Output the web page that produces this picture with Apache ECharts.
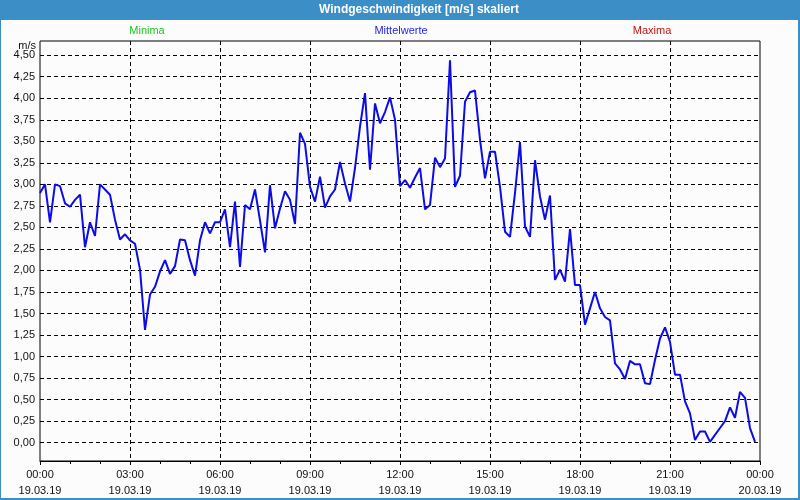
<!DOCTYPE html>
<html><head><meta charset="utf-8">
<script src="https://cdn.jsdelivr.net/npm/echarts@6/dist/echarts.min.js"></script>
<style>html,body{margin:0;padding:0;background:#fcfcfc}#c{width:800px;height:500px}</style>
</head><body><div id="c"></div>
<script>
const times = [
'00:00','00:10','00:20','00:30','00:40','00:50','01:00','01:10','01:20','01:30','01:40','01:50',
'02:00','02:10','02:20','02:30','02:40','02:50','03:00','03:10','03:20','03:30','03:40','03:50',
'04:00','04:10','04:20','04:30','04:40','04:50','05:00','05:10','05:20','05:30','05:40','05:50',
'06:00','06:10','06:20','06:30','06:40','06:50','07:00','07:10','07:20','07:30','07:40','07:50',
'08:00','08:10','08:20','08:30','08:40','08:50','09:00','09:10','09:20','09:30','09:40','09:50',
'10:00','10:10','10:20','10:30','10:40','10:50','11:00','11:10','11:20','11:30','11:40','11:50',
'12:00','12:10','12:20','12:30','12:40','12:50','13:00','13:10','13:20','13:30','13:40','13:50',
'14:00','14:10','14:20','14:30','14:40','14:50','15:00','15:10','15:20','15:30','15:40','15:50',
'16:00','16:10','16:20','16:30','16:40','16:50','17:00','17:10','17:20','17:30','17:40','17:50',
'18:00','18:10','18:20','18:30','18:40','18:50','19:00','19:10','19:20','19:30','19:40','19:50',
'20:00','20:10','20:20','20:30','20:40','20:50','21:00','21:10','21:20','21:30','21:40','21:50',
'22:00','22:10','22:20','22:30','22:40','22:50','23:00','23:10','23:20','23:30','23:40','23:50'];
const meanValues = [
2.90,3.00,2.56,3.00,2.98,2.78,2.74,2.82,2.88,2.27,2.56,2.40,
3.00,2.94,2.88,2.59,2.36,2.42,2.35,2.31,2.01,1.31,1.72,1.81,
1.99,2.12,1.96,2.05,2.36,2.35,2.12,1.94,2.35,2.56,2.43,2.56,
2.56,2.71,2.27,2.80,2.04,2.76,2.71,2.94,2.58,2.21,2.99,2.49,
2.72,2.92,2.82,2.54,3.60,3.47,2.97,2.80,3.09,2.73,2.86,2.94,
3.26,3.01,2.80,3.19,3.67,4.06,3.17,3.94,3.71,3.84,4.01,3.75,
2.98,3.05,2.96,3.08,3.19,2.71,2.76,3.31,3.20,3.30,4.44,2.97,
3.10,3.96,4.07,4.09,3.52,3.07,3.38,3.38,2.97,2.45,2.39,2.90,
3.49,2.51,2.39,3.28,2.86,2.59,2.87,1.89,2.01,1.87,2.48,1.83,
1.83,1.37,1.56,1.75,1.56,1.46,1.42,0.92,0.85,0.74,0.95,0.91,
0.91,0.69,0.68,0.96,1.21,1.34,1.17,0.79,0.79,0.48,0.34,0.03,
0.13,0.13,0.01,0.09,0.17,0.25,0.41,0.29,0.59,0.52,0.17,0.01];
const xTickLabels = ['00:00\n19.03.19','03:00\n19.03.19','06:00\n19.03.19','09:00\n19.03.19',
'12:00\n19.03.19','15:00\n19.03.19','18:00\n19.03.19','21:00\n19.03.19','00:00\n20.03.19'];
const titleText = 'Windgeschwindigkeit [m/s] skaliert';
const legendNames = ['Minima','Mittelwerte','Maxima'];
const yUnit = 'm/s';

const FONT = '"Liberation Sans", Arial, sans-serif';
const toHours = t => { const p = t.split(':'); return +p[0] + (+p[1]) / 60; };
const seriesData = times.map((t, i) => [toHours(t), meanValues[i]]);
const legendColors = ['#22c422', '#2323ee', '#c41111'];
const legendX = [147, 401, 652];

const chart = echarts.init(document.getElementById('c'), null, {renderer: 'canvas'});
chart.setOption({
  animation: false,
  backgroundColor: '#fcfcfc',
  graphic: [
    {type: 'rect', shape: {x: 0, y: 0, width: 800, height: 20}, style: {fill: '#3c8ec6'}, silent: true},
    {type: 'rect', shape: {x: 0, y: 0, width: 1, height: 500}, style: {fill: '#3c8ec6'}, silent: true},
    {type: 'rect', shape: {x: 798, y: 0, width: 2, height: 500}, style: {fill: '#3c8ec6'}, silent: true},
    {type: 'rect', shape: {x: 0, y: 498, width: 800, height: 2}, style: {fill: '#3c8ec6'}, silent: true},
    {type: 'text', style: {text: titleText, x: 419, y: 10, textAlign: 'center', textVerticalAlign: 'middle',
      fill: '#ffffff', font: 'bold 12px ' + FONT}},
    ...legendNames.map((n, i) => ({type: 'text', style: {text: n, x: legendX[i], y: 31, textAlign: 'center',
      textVerticalAlign: 'middle', fill: legendColors[i], font: '11px ' + FONT}})),
    {type: 'text', style: {text: yUnit, x: 36, y: 46, textAlign: 'right', textVerticalAlign: 'middle',
      fill: '#111', font: '11px ' + FONT}}
  ],
  grid: [
    {left: 40, right: 40, top: 41, bottom: 35.8},
    {left: 40, right: 40, top: 41, bottom: 39, show: true, borderColor: '#000', borderWidth: 1, backgroundColor: 'transparent'}
  ],
  xAxis: [
    {gridIndex: 0, type: 'value', min: 0, max: 24, interval: 3, show: false},
    {gridIndex: 1, type: 'value', min: 0, max: 24, interval: 3,
      axisLine: {show: true, lineStyle: {color: '#000', width: 1}},
      axisTick: {show: true, length: 4, lineStyle: {color: '#000'}},
      minorTick: {show: true, splitNumber: 3, length: 3, lineStyle: {color: '#000'}},
      axisLabel: {formatter: v => xTickLabels[Math.round(v / 3)], color: '#111', fontSize: 11,
        fontFamily: FONT, lineHeight: 16, margin: 6},
      splitLine: {show: true, showMinLine: false, showMaxLine: false, lineStyle: {color: '#000', type: [4, 3], width: 1}}
    }
  ],
  yAxis: [
    {gridIndex: 0, type: 'value', min: -0.25, max: 4.665, interval: 0.25,
      axisLine: {show: false}, axisTick: {show: false},
      axisLabel: {showMaxLabel: false, showMinLabel: false, margin: 5, color: '#111', fontSize: 11, fontFamily: FONT,
        formatter: v => (v < -0.01 || v > 4.55) ? '' : v.toFixed(2).replace('.', ',')},
      splitLine: {show: true, showMinLine: false, showMaxLine: false, lineStyle: {color: '#000', type: [4, 3], width: 1}}
    },
    {gridIndex: 1, type: 'value', min: 0, max: 1, show: false}
  ],
  series: [{
    type: 'line', xAxisIndex: 0, yAxisIndex: 0, data: seriesData, symbol: 'none',
    lineStyle: {color: '#0c0ce6', width: 2}
  }]
});
</script></body></html>
